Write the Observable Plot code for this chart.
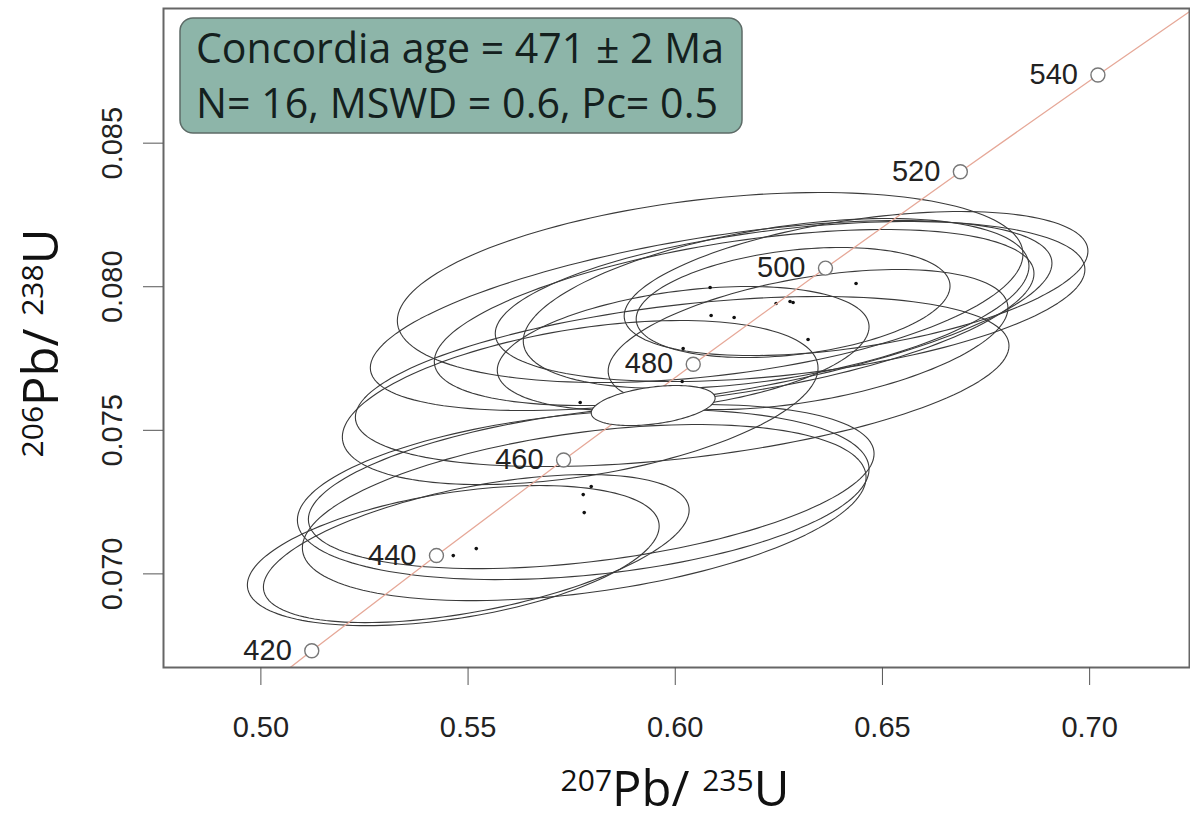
<!DOCTYPE html>
<html><head><meta charset="utf-8">
<script src="https://cdn.jsdelivr.net/npm/d3@7"></script>
<script src="https://cdn.jsdelivr.net/npm/@observablehq/plot@0.6"></script>
<style>body{margin:0;background:#fff;} #chart{width:1190px;height:823px;}</style>
</head><body><div id="chart"></div>
<script>
// Concordia curve (age in Ma, 207Pb/235U, 206Pb/238U)
const concAge = [400, 420, 440, 460, 480, 500, 520, 540, 560];
const concX = [0.48279, 0.51228, 0.54237, 0.57305, 0.60434, 0.63625, 0.66880, 0.70200, 0.73586];
const concY = [0.064016, 0.067322, 0.070638, 0.073965, 0.077302, 0.080650, 0.084007, 0.087376, 0.090755];
const markerAges = [420, 440, 460, 480, 500, 520, 540];

// Analyses: centre, half-extent (95%) in x and y, error correlation
const ellX = [0.54643, 0.55198, 0.57972, 0.57779, 0.57803, 0.57706, 0.60167, 0.60191, 0.60842, 0.61421, 0.62434, 0.62844, 0.63205, 0.64363, 0.62771, 0.60866];
const ellY = [0.070637, 0.070881, 0.073041, 0.072762, 0.072135, 0.075967, 0.076699, 0.077848, 0.079973, 0.078928, 0.079416, 0.079451, 0.078162, 0.080112, 0.079485, 0.078998];
const ellEX = [0.04969, 0.05137, 0.06826, 0.06898, 0.06802, 0.05740, 0.07887, 0.04486, 0.07549, 0.07236, 0.06102, 0.03787, 0.04824, 0.05596, 0.07115, 0.08225];
const ellEY = [0.002439, 0.002578, 0.002857, 0.002961, 0.003066, 0.002857, 0.002961, 0.00216, 0.003309, 0.003066, 0.002961, 0.001916, 0.002439, 0.002508, 0.002787, 0.003309];
const ellRho = [0.42, 0.52, 0.40, 0.30, 0.40, 0.42, 0.42, 0.35, 0.35, 0.50, 0.44, 0.30, 0.45, 0.45, 0.40, 0.55];

// Concordia age ellipse
const ageX = [0.59467];
const ageY = [0.075863];
const ageEX = [0.01495];
const ageEY = [0.000697];
const ageRho = [0.37];

const xTicks = [0.50, 0.55, 0.60, 0.65, 0.70];
const yTicks = [0.070, 0.075, 0.080, 0.085];

const annLine1 = "Concordia age = 471 \u00B1 2 Ma";
const annLine2 = "N= 16, MSWD = 0.6, Pc= 0.5";

// build tables
const conc = concAge.map((a, i) => ({age: a, x: concX[i], y: concY[i]}));
const markers = conc.filter(d => markerAges.includes(d.age));
function outline(xs, ys, exs, eys, rhos) {
  const pts = [];
  xs.forEach((cx, i) => {
    const r = rhos[i], s = Math.sqrt(1 - r * r);
    for (let k = 0; k <= 160; k++) {
      const t = 2 * Math.PI * k / 160;
      pts.push({id: i, x: cx + exs[i] * Math.cos(t), y: ys[i] + eys[i] * (r * Math.cos(t) + s * Math.sin(t))});
    }
  });
  return pts;
}
const ellPts = outline(ellX, ellY, ellEX, ellEY, ellRho);
const agePts = outline(ageX, ageY, ageEX, ageEY, ageRho);
const centers = ellX.map((x, i) => ({x, y: ellY[i]}));

const plot = Plot.plot({
  width: 1190, height: 823,
  marginLeft: 163, marginRight: 1, marginTop: 8, marginBottom: 156,
  style: {fontFamily: "'Liberation Sans', Arial, sans-serif", fontSize: "29px", color: "#222", background: "#fff"},
  x: {domain: [0.4765, 0.7241], label: null},
  y: {domain: [0.06674, 0.08969], label: null},
  marks: [
    Plot.line(ellPts, {x: "x", y: "y", z: "id", stroke: "#3a3a3a", strokeWidth: 1.1, clip: true}),
    Plot.dot(centers, {x: "x", y: "y", r: 1.8, fill: "#111", stroke: null}),
    Plot.line(conc, {x: "x", y: "y", stroke: "#e6a898", strokeWidth: 1.3, clip: true}),
    Plot.line(agePts, {x: "x", y: "y", fill: "white", stroke: "#3a3a3a", strokeWidth: 1.1}),
    Plot.dot(markers, {x: "x", y: "y", r: 7, fill: "white", stroke: "#777", strokeWidth: 1.4}),
    Plot.text(markers, {x: "x", y: "y", text: d => String(d.age), dx: -20, textAnchor: "end", fontSize: 29, fill: "#222"}),
    Plot.frame({stroke: "#666", strokeWidth: 2}),
    Plot.axisX({ticks: xTicks, tickFormat: d3.format(".2f"), tickSize: 18, tickPadding: 31, stroke: "#555", label: null}),
    Plot.axisY({ticks: yTicks, tickFormat: d3.format(".3f"), tickSize: 20, tickPadding: 22, tickRotate: -90, stroke: "#555", label: null})
  ]
});
document.getElementById("chart").appendChild(plot);

const svg = d3.select(plot);
// annotation box
const g = svg.append("g").attr("text-anchor", "start");
g.append("rect").attr("x", 180).attr("y", 18).attr("width", 562).attr("height", 115)
  .attr("rx", 13).attr("fill", "#8db5a9").attr("stroke", "#5d6b67").attr("stroke-width", 1.5);
g.append("text").attr("x", 196).attr("y", 63).attr("text-anchor", "start").attr("font-family", "'Open Sans', sans-serif")
  .attr("font-size", 42).attr("fill", "#14201e").attr("textLength", 528).attr("lengthAdjust", "spacingAndGlyphs").text(annLine1);
g.append("text").attr("x", 196).attr("y", 118).attr("text-anchor", "start").attr("font-family", "'Open Sans', sans-serif")
  .attr("font-size", 42).attr("fill", "#14201e").attr("textLength", 522).attr("lengthAdjust", "spacingAndGlyphs").text(annLine2);

// axis titles with superscripts
function isoTitle(sel, sup1, mid, sup2, tail) {
  sel.attr("font-family", "'Open Sans', sans-serif").attr("fill", "#111").attr("text-anchor", "middle");
  sel.append("tspan").attr("font-size", 30).attr("dy", -15).text(sup1);
  sel.append("tspan").attr("font-size", 49).attr("dy", 15).text(mid);
  sel.append("tspan").attr("font-size", 30).attr("dy", -15).text(sup2);
  sel.append("tspan").attr("font-size", 49).attr("dy", 15).text(tail);
}
isoTitle(svg.append("text").attr("x", 675).attr("y", 806), "207", "Pb/ ", "235", "U");
isoTitle(svg.append("text").attr("transform", "translate(58,343) rotate(-90)"), "206", "Pb/ ", "238", "U");
</script>
</body></html>
